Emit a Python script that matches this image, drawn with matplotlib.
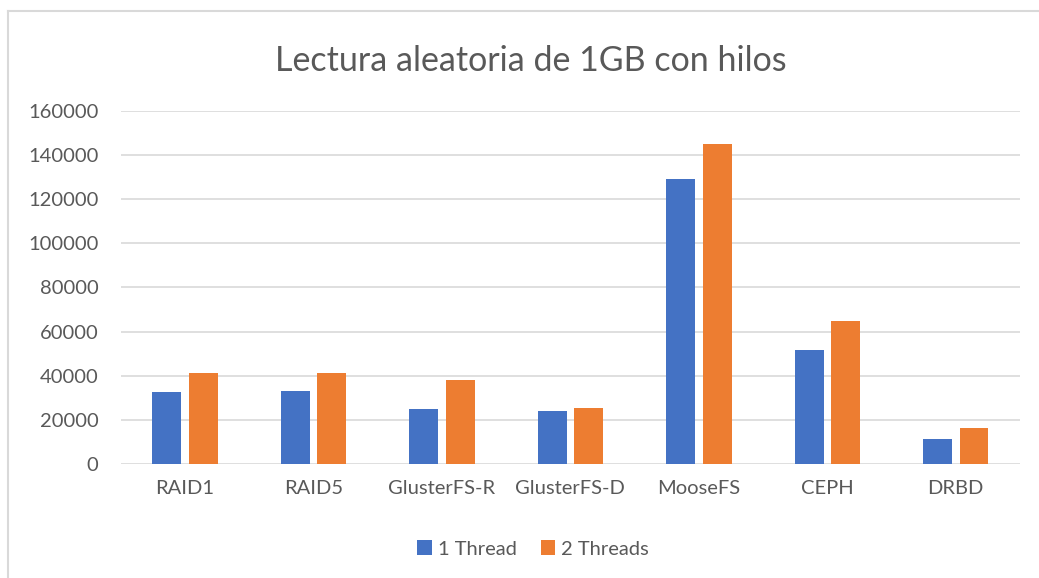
import numpy as np
import matplotlib
matplotlib.use("Agg")
import matplotlib.pyplot as plt
from matplotlib.lines import Line2D

# data
categories = ["RAID1", "RAID5", "GlusterFS-R", "GlusterFS-D", "MooseFS", "CEPH", "DRBD"]
one_thread = [32500, 33200, 24800, 24200, 128800, 51500, 11400]
two_threads = [41100, 41500, 37900, 25400, 144700, 65000, 16400]
yticks = [0, 20000, 40000, 60000, 80000, 100000, 120000, 140000, 160000]

plt.rcParams['font.family'] = ['Lato', 'DejaVu Sans']
txt = "#595959"

fig = plt.figure(figsize=(10.39, 5.78), dpi=100)
ax = fig.add_axes([120.7 / 1039, 1 - 464.3 / 578, (1020 - 120.7) / 1039, (464.3 - 110.5) / 578])

x = np.arange(len(categories))
w = 0.225
ax.bar(x - 0.142, one_thread, w, color="#4472C4", label="1 Thread", zorder=3)
ax.bar(x + 0.142, two_threads, w, color="#ED7D31", label="2 Threads", zorder=3)

ax.set_xlim(-0.5, len(categories) - 0.5)
ax.set_ylim(0, 160000)
ax.set_yticks(yticks)
ax.set_yticklabels([str(v) for v in yticks])
ax.set_xticks(x)
ax.set_xticklabels(categories)
ax.tick_params(axis="both", length=0, labelsize=14.5, labelcolor=txt)
ax.tick_params(axis="y", pad=16)
ax.tick_params(axis="x", pad=11)
ax.grid(axis="y", color="#D9D9D9", linewidth=1.2, zorder=0)
for s in ax.spines.values():
    s.set_visible(False)

fig.text(531 / 1039, 1 - 61 / 578, "Lectura aleatoria de 1GB con hilos",
         ha="center", va="center", fontsize=24.5, color=txt)

leg = fig.legend(loc="center", bbox_to_anchor=(533 / 1039, 1 - 549 / 578), ncol=2,
                 frameon=False, fontsize=14.5, handlelength=0.7, handleheight=0.7,
                 handletextpad=0.3, columnspacing=1.2)
for t in leg.get_texts():
    t.set_color(txt)

# chart frame (only top and left edges visible)
fig.add_artist(Line2D([8 / 1039, 8 / 1039], [0, 1 - 11 / 578], color="#D9D9D9", lw=1.5,
                      transform=fig.transFigure))
fig.add_artist(Line2D([8 / 1039, 1], [1 - 11 / 578, 1 - 11 / 578], color="#D9D9D9", lw=1.5,
                      transform=fig.transFigure))

fig.savefig("out.png", dpi=100)
